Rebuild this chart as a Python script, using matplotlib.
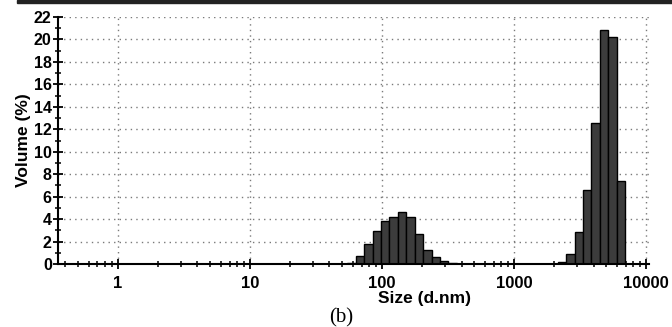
import numpy as np
import matplotlib
matplotlib.use("Agg")
import matplotlib.pyplot as plt
from matplotlib.ticker import FixedLocator, LogLocator, NullFormatter, MultipleLocator

# Zetasizer size classes (d.nm) and volume (%)
peak1_size = [58.77, 68.06, 78.82, 91.28, 105.7, 122.4, 141.8, 164.2, 190.1,
              220.2, 255.0, 295.3, 342.0]
peak1_vol = [0.1, 0.7, 1.75, 2.9, 3.8, 4.2, 4.6, 4.2, 2.7, 1.25, 0.6, 0.25, 0.05]

peak2_size = [2305, 2669, 3091, 3580, 4145, 4801, 5560, 6439]
peak2_vol = [0.15, 0.9, 2.85, 6.6, 12.6, 20.8, 20.2, 7.4]

x_ticks = [1, 10, 100, 1000, 10000]
x_labels = ["1", "10", "100", "1000", "10000"]
y_ticks = list(range(0, 23, 2))

plt.rcParams['font.family'] = ['Liberation Sans', 'DejaVu Sans']

fig = plt.figure(figsize=(6.72, 3.27), dpi=100)
ax = fig.add_axes([58 / 672, 1 - 264 / 327, (649 - 58) / 672, (264 - 17) / 327])

# barra scura in alto
fig.patches.append(plt.Rectangle((17 / 672, 324 / 327), 1, 3 / 327,
                                 transform=fig.transFigure, color="#222222",
                                 zorder=5))

step = np.sqrt(1.1581)
for sizes, vols in [(peak1_size, peak1_vol), (peak2_size, peak2_vol)]:
    s = np.array(sizes, dtype=float)
    left = s / step
    right = s * step
    ax.bar(left, vols, width=right - left, align="edge", color="#3c3c3c",
           edgecolor="black", linewidth=1.0, zorder=3)

ax.set_xscale("log")
ax.set_xlim(0.352, 10500)
ax.set_ylim(0, 22)

ax.xaxis.set_major_locator(FixedLocator(x_ticks))
ax.set_xticklabels(x_labels)
ax.xaxis.set_minor_locator(LogLocator(base=10, subs=np.arange(2, 10)))
ax.xaxis.set_minor_formatter(NullFormatter())
ax.set_yticks(y_ticks)
ax.yaxis.set_minor_locator(MultipleLocator(1))

ax.grid(True, which="major", color="#7a7a7a", linestyle=(0, (1, 3)),
        linewidth=1.0, zorder=0)

for side in ["top", "right"]:
    ax.spines[side].set_visible(False)
for side in ["left", "bottom"]:
    ax.spines[side].set_linewidth(1.5)
    ax.spines[side].set_zorder(4)

ax.tick_params(axis="both", which="major", direction="inout", length=7,
               width=1.3, color="black")
ax.tick_params(axis="both", which="minor", direction="inout", length=5,
               width=1.1, color="black")
ax.tick_params(axis="x", which="major", labelsize=12, pad=5)
ax.tick_params(axis="y", which="major", labelsize=11.5, pad=1)
for lab in ax.get_xticklabels() + ax.get_yticklabels():
    lab.set_fontweight("bold")

ax.set_ylabel("Volume (%)", fontsize=12.5, fontweight="bold", labelpad=2)
fig.text(425 / 672, 1 - 299 / 327, "Size (d.nm)", fontsize=12.5,
         fontweight="bold", ha="center", va="center")

fig.text(341 / 672, 1 - 318 / 327, "(b)", fontsize=15,
         family="Liberation Serif", ha="center", va="center")

fig.savefig("out.png", dpi=100, facecolor="white")
